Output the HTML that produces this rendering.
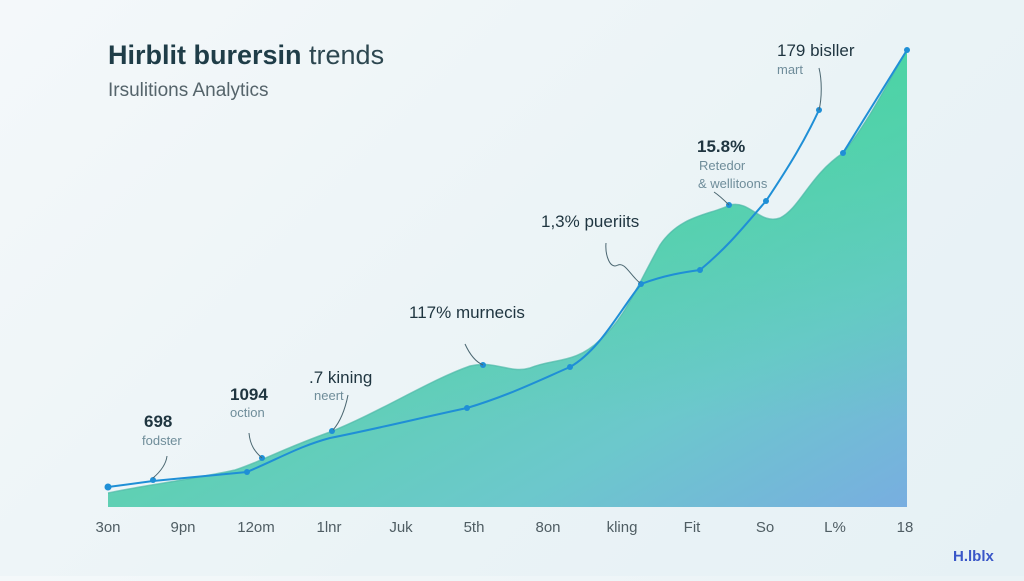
<!DOCTYPE html>
<html><head><style>
body{margin:0;width:1024px;height:576px;overflow:hidden;background:linear-gradient(135deg,#f4f8fa,#eaf3f6 60%,#e6f1f5);font-family:"Liberation Sans",sans-serif}
</style></head><body>
<svg width="1024" height="576" viewBox="0 0 1024 576" xmlns="http://www.w3.org/2000/svg" font-family="Liberation Sans, sans-serif">
<defs>
<linearGradient id="g" x1="0" y1="0" x2="1" y2="1">
<stop offset="0" stop-color="#7fd9c0"/><stop offset="0.5" stop-color="#5fd0b4"/><stop offset="0.75" stop-color="#6cc8cc"/><stop offset="1" stop-color="#78aee0"/>
</linearGradient>
<linearGradient id="g2" x1="0" y1="50" x2="0" y2="420" gradientUnits="userSpaceOnUse">
<stop offset="0" stop-color="#3fd69a" stop-opacity="0.6"/><stop offset="1" stop-color="#3fd69a" stop-opacity="0"/>
</linearGradient>
</defs>
<text x="108" y="64" font-size="27" font-weight="bold" fill="#1f3d48">Hirblit burersin <tspan font-weight="normal" fill="#2d4750">trends</tspan></text>
<text x="108" y="96" font-size="19" fill="#55646b">Irsulitions Analytics</text>
<path id="a" d="M108,493 C140,486 200,478 235,470 C260,462 280,450 330,432 C380,412 430,380 470,366 C495,360 510,374 530,368 C555,358 575,364 600,340 C625,318 635,290 660,245 C680,215 710,215 730,205 C750,200 760,225 780,218 C800,208 810,175 843,153 C870,120 890,78 907,50 L907,507 L108,507 Z" fill="url(#g)"/>
<path d="M108,493 C140,486 200,478 235,470 C260,462 280,450 330,432 C380,412 430,380 470,366 C495,360 510,374 530,368 C555,358 575,364 600,340 C625,318 635,290 660,245 C680,215 710,215 730,205 C750,200 760,225 780,218 C800,208 810,175 843,153 C870,120 890,78 907,50 L907,507 L108,507 Z" fill="url(#g2)"/>
<path d="M108,493 C140,486 200,478 235,470 C260,462 280,450 330,432 C380,412 430,380 470,366 C495,360 510,374 530,368 C555,358 575,364 600,340 C625,318 635,290 660,245 C680,215 710,215 730,205 C750,200 760,225 780,218 C800,208 810,175 843,153 C870,120 890,78 907,50" fill="none" stroke="#4fb9a8" stroke-width="1.5" opacity="0.7"/>
<path d="M108,487 L153,481 L247,472 C280,458 300,446 330,438 C380,428 420,418 467,408 C510,395 540,380 570,367 C600,350 620,310 641,284 C665,275 685,272 700,270 C730,245 745,225 766,201 C790,165 805,140 819,110" fill="none" stroke="#1f8fd6" stroke-width="2"/>
<path d="M843,153 L907,50" fill="none" stroke="#1f8fd6" stroke-width="2"/>
<g fill="#1f8fd6">
<circle cx="108" cy="487" r="3.5"/><circle cx="153" cy="480" r="3"/><circle cx="247" cy="472" r="3"/><circle cx="262" cy="458" r="3"/><circle cx="332" cy="431" r="3"/><circle cx="467" cy="408" r="3"/><circle cx="483" cy="365" r="3"/><circle cx="570" cy="367" r="3"/><circle cx="641" cy="284" r="3"/><circle cx="700" cy="270" r="3"/><circle cx="729" cy="205" r="3"/><circle cx="766" cy="201" r="3"/><circle cx="819" cy="110" r="3"/><circle cx="843" cy="153" r="3"/><circle cx="907" cy="50" r="3"/>
</g>
<g fill="none" stroke="#4a6670" stroke-width="1">
<path d="M167,456 C166,465 160,472 153,478"/><path d="M249,433 C250,445 255,452 262,458"/><path d="M348,395 C345,410 340,422 333,430"/><path d="M465,344 C470,355 476,362 483,365"/><path d="M606,243 C605,255 610,270 618,265 C625,262 630,275 640,283"/><path d="M714,192 C720,196 724,200 729,205"/><path d="M819,68 C822,80 822,98 819,110"/>
</g>
<g font-weight="bold" fill="#1f3540" font-size="17">
<text x="144" y="427">698</text><text x="230" y="400">1094</text><text x="309" y="383" font-weight="normal">.7 kining</text><text x="409" y="318" font-weight="normal">117% murnecis</text><text x="541" y="227" font-weight="normal">1,3% pueriits</text><text x="697" y="152">15.8%</text><text x="777" y="56" font-weight="normal">179 bisller</text>
</g>
<g fill="#6f8d9a" font-size="13">
<text x="142" y="445">fodster</text><text x="230" y="417">oction</text><text x="314" y="400">neert</text><text x="699" y="170">Retedor</text><text x="698" y="188">&amp; wellitoons</text><text x="777" y="74">mart</text>
</g>
<g fill="#4f5d63" font-size="15" text-anchor="middle">
<text x="108" y="532">3on</text><text x="183" y="532">9pn</text><text x="256" y="532">12om</text><text x="329" y="532">1lnr</text><text x="401" y="532">Juk</text><text x="474" y="532">5th</text><text x="548" y="532">8on</text><text x="622" y="532">kling</text><text x="692" y="532">Fit</text><text x="765" y="532">So</text><text x="835" y="532">L%</text><text x="905" y="532">18</text>
</g>
<text x="953" y="561" font-size="15" font-weight="bold" fill="#3a57c8">H.lblx</text>
</svg>
</body></html>
